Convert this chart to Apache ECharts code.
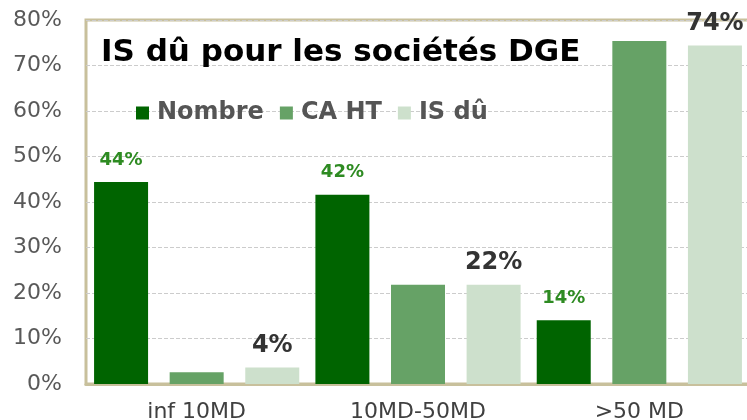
<!DOCTYPE html>
<html>
<head>
<meta charset="utf-8">
<script src="https://cdn.jsdelivr.net/npm/echarts@6/dist/echarts.min.js"></script>
<style>
html,body{margin:0;padding:0;background:#fff;}
#chart{width:747px;height:420px;}
</style>
</head>
<body>
<div id="chart"></div>
<script>
var categories = ['inf 10MD', '10MD-50MD', '>50 MD'];
var seriesNames = ['Nombre', 'CA HT', 'IS dû'];
var nombre = [44.4, 41.6, 14.0];
var caHT = [2.6, 21.8, 75.4];
var isDu = [3.6, 21.8, 74.4];
var yTicks = [0, 10, 20, 30, 40, 50, 60, 70, 80];
var titleText = 'IS dû pour les sociétés DGE';

var FONT = '"DejaVu Sans", Verdana, sans-serif';
var chart = echarts.init(document.getElementById('chart'), null, {renderer: 'canvas'});

function pct(p) { return Math.round(p.value) + '%'; }

var option = {
  animation: false,
  backgroundColor: '#ffffff',
  title: {
    text: titleText,
    left: 101,
    top: 37,
    padding: [0, 0, 0, 0],
    textStyle: {fontFamily: FONT, fontSize: 31, fontWeight: 'bold', color: '#000000'}
  },
  legend: {
    data: seriesNames,
    left: 136,
    top: 101,
    padding: 0,
    icon: 'rect',
    itemWidth: 13,
    itemHeight: 13,
    itemGap: 16,
    textStyle: {fontFamily: FONT, fontSize: 24, fontWeight: 'bold', color: '#555555', padding: [0, 0, 0, 3]}
  },
  grid: {
    left: 86,
    top: 20,
    width: 664,
    bottom: 36,
    show: true,
    borderColor: '#c8c09c',
    borderWidth: 3,
    containLabel: false,
    outerBoundsMode: 'none'
  },
  xAxis: {
    type: 'category',
    data: categories,
    axisLine: {show: true, lineStyle: {color: '#c8c09c', width: 3}},
    axisTick: {show: false},
    axisLabel: {fontFamily: FONT, fontSize: 22, color: '#404040', margin: 17}
  },
  yAxis: {
    type: 'value',
    min: yTicks[0],
    max: yTicks[yTicks.length - 1],
    interval: 10,
    axisLine: {show: false},
    axisTick: {show: false},
    axisLabel: {fontFamily: FONT, fontSize: 22, color: '#595959', margin: 24, formatter: '{value}%'},
    splitLine: {show: true, lineStyle: {color: '#cccccc', type: 'dashed', width: 1}}
  },
  series: [
    {
      name: seriesNames[0], type: 'bar', data: nombre,
      barWidth: 54, barGap: '40%',
      itemStyle: {color: '#006400'},
      label: {show: true, position: 'top', distance: 13, formatter: pct,
        fontFamily: FONT, fontSize: 18, fontWeight: 'bold', color: '#2e8b22'}
    },
    {
      name: seriesNames[1], type: 'bar', data: caHT,
      barWidth: 54, barGap: '40%',
      itemStyle: {color: '#66a266'}
    },
    {
      name: seriesNames[2], type: 'bar', data: isDu,
      barWidth: 54, barGap: '40%',
      itemStyle: {color: '#cde0cc'},
      label: {show: true, position: 'top', distance: 10, formatter: pct,
        fontFamily: FONT, fontSize: 24, fontWeight: 'bold', color: '#333333'}
    }
  ]
};
chart.setOption(option);
</script>
</body>
</html>
